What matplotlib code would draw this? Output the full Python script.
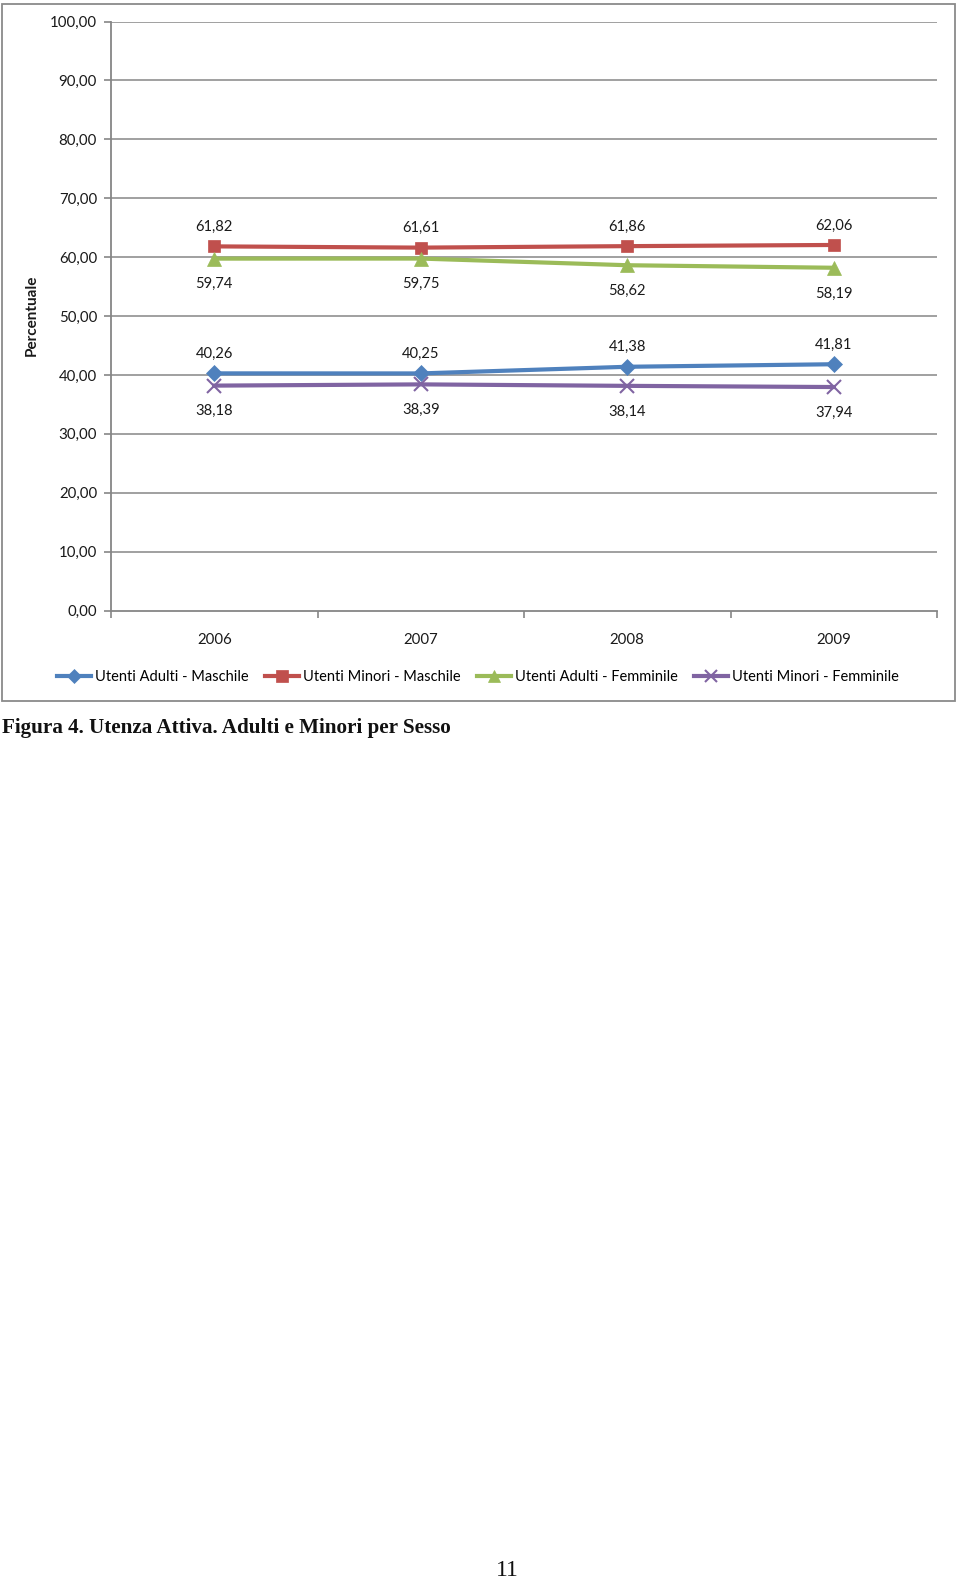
import matplotlib
matplotlib.use("Agg")
import matplotlib.pyplot as plt
from matplotlib.patches import Rectangle
from matplotlib.lines import Line2D

years = ["2006", "2007", "2008", "2009"]
adulti_maschile = [40.26, 40.25, 41.38, 41.81]
minori_maschile = [61.82, 61.61, 61.86, 62.06]
adulti_femminile = [59.74, 59.75, 58.62, 58.19]
minori_femminile = [38.18, 38.39, 38.14, 37.94]
series_names = ["Utenti Adulti - Maschile", "Utenti Minori - Maschile",
                "Utenti Adulti - Femminile", "Utenti Minori - Femminile"]
y_ticks = [0, 10, 20, 30, 40, 50, 60, 70, 80, 90, 100]

W, H = 960, 1581
fig = plt.figure(figsize=(W / 100, H / 100), dpi=100)
FONT = ["Lato", "DejaVu Sans"]
FS = 10.8
grey = "#868686"
txt = "#1a1a1a"

def fx(px):
    return px / W

def fy(py):
    return 1 - py / H

ax = fig.add_axes([fx(111), fy(610.5), fx(937) - fx(111), fy(21.5) - fy(610.5)])
ax.set_xlim(0, 4)
ax.set_ylim(0, 100)
ax.set_yticks(y_ticks)
ax.set_yticklabels([f"{v:.2f}".replace(".", ",") for v in y_ticks], fontsize=FS,
                   family=FONT, color=txt)
ax.set_xticks([0, 1, 2, 3, 4])
ax.set_xticklabels([])
ax.set_xticks([0.5, 1.5, 2.5, 3.5], minor=True)
ax.set_xticklabels(years, minor=True, fontsize=FS, family=FONT, color=txt)
ax.tick_params(axis="x", which="minor", length=0, pad=16)
ax.tick_params(axis="x", which="major", length=5, color=grey, width=1.2)
ax.tick_params(axis="y", length=5, color=grey, width=1.2, pad=5)
for s in ["top", "right"]:
    ax.spines[s].set_visible(False)
for s in ["left", "bottom"]:
    ax.spines[s].set_color(grey)
    ax.spines[s].set_linewidth(1.3)
for v in y_ticks[1:]:
    ax.axhline(v, color=grey, lw=1.1, zorder=0)

xs = [0.5, 1.5, 2.5, 3.5]
specs = [
    (adulti_maschile, "#4F81BD", "D", 8, 14),
    (minori_maschile, "#C0504D", "s", 9, 14),
    (adulti_femminile, "#9BBB59", "^", 10, -18.5),
    (minori_femminile, "#8064A2", "x", 10, -18.5),
]
handles = []
for (vals, col, mk, ms, off), name in zip(specs, series_names):
    kw = dict(markeredgewidth=1.5) if mk == "x" else dict(markeredgewidth=0.5, markeredgecolor=col)
    ax.plot(xs, vals, color=col, lw=3, marker=mk, markersize=ms, zorder=3, **kw)
    for x, v in zip(xs, vals):
        ax.annotate(f"{v:.2f}".replace(".", ","), (x, v), xytext=(0, off),
                    textcoords="offset points", ha="center", va="center",
                    fontsize=10.6, family=FONT, color=txt)
    handles.append(Line2D([], [], color=col, lw=3, marker=mk, markersize=ms - 1, **kw))

fig.legend(handles, series_names, loc="center", bbox_to_anchor=(fx(478), fy(677)),
           ncol=4, frameon=False, handlelength=2.3, handletextpad=0.27,
           columnspacing=1.15, prop={"family": FONT, "size": 10.5})

fig.text(fx(32), fy(315), "Percentuale", rotation=90, ha="center", va="center",
         fontsize=11, fontweight="bold", family=FONT, color=txt)

fig.patches.append(Rectangle((fx(2), fy(700.5)), fx(955) - fx(2), fy(4) - fy(700.5),
                             transform=fig.transFigure, fill=False,
                             edgecolor="#8a8a8a", lw=1.3))

fig.text(fx(2), fy(728), "Figura 4. Utenza Attiva. Adulti e Minori per Sesso",
         ha="left", va="center", fontsize=15.2, fontweight="bold",
         family="Liberation Serif", color="#111111")
fig.text(fx(507), fy(1570), "11", ha="center", va="center", fontsize=17,
         family="Liberation Serif", color="#111111")

fig.savefig("out.png", dpi=100)
